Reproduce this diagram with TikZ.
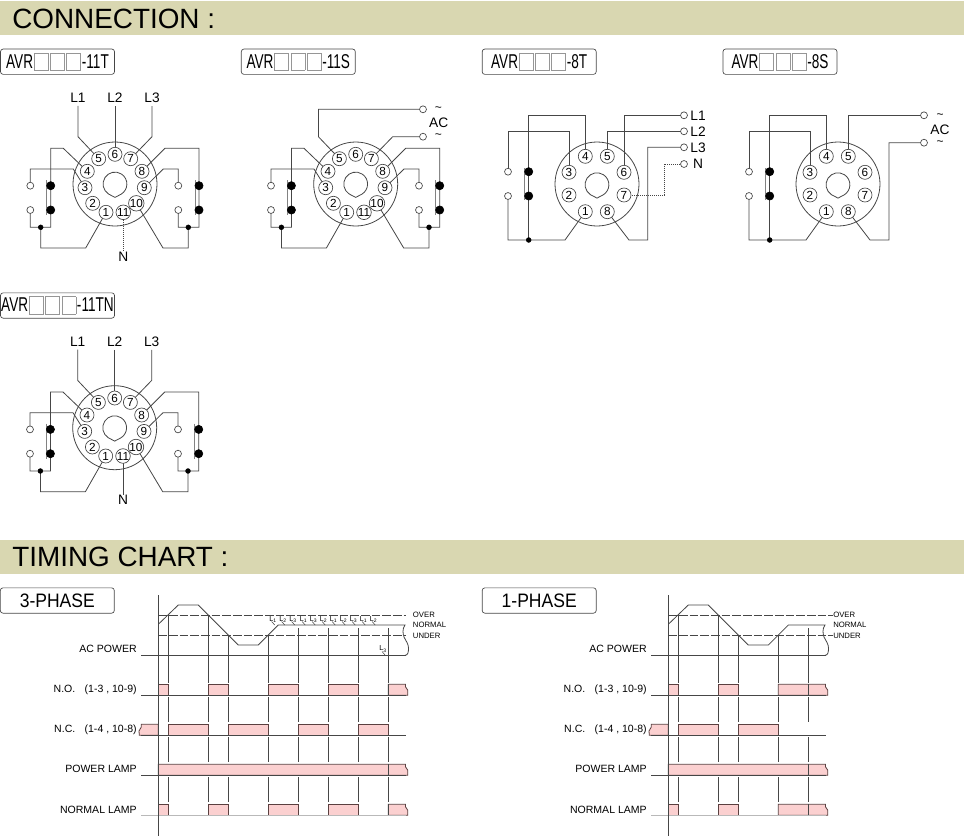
\documentclass[tikz,border=0pt]{standalone}
\usepackage{fontspec}
\usepackage{xcolor}
\usetikzlibrary{backgrounds}
\setmainfont{Liberation Sans}
\newfontfamily\boxfont[FakeStretch=0.68]{Liberation Sans}
\newfontfamily\phasefont[FakeStretch=0.9]{Liberation Sans}
\definecolor{bandcol}{RGB}{217,215,177}
\definecolor{wirecol}{RGB}{70,70,70}
\definecolor{slotcol}{RGB}{150,150,150}
\definecolor{pulsecol}{RGB}{251,208,208}
\definecolor{edgecol}{RGB}{90,64,64}
\definecolor{basecol}{RGB}{185,185,185}
\definecolor{barcol}{RGB}{130,130,130}
\tikzset{
  wire/.style={draw=wirecol,line width=0.6pt},
  dotwire/.style={draw=wirecol,line width=0.6pt,dash pattern={on 0.75pt off 0.75pt}},
  contactbar/.style={draw=barcol,line width=0.7pt},
  pinnode/.style={circle,draw=wirecol,line width=0.5pt,fill=white,inner sep=0pt,minimum size=10.5pt,font=\fontsize{8.8}{9}\selectfont},
  opencontact/.style={circle,draw=wirecol,line width=0.5pt,fill=white,inner sep=0pt,minimum size=5.2pt},
  shutcontact/.style={circle,draw=black,fill=black,inner sep=0pt,minimum size=6.2pt},
  joint/.style={circle,draw=black,fill=black,inner sep=0pt,minimum size=3.6pt},
  typelabel/.style={draw=wirecol,rounded corners=2pt,line width=0.5pt,minimum width=85.5pt,minimum height=19pt,inner sep=0pt,font=\boxfont\fontsize{15}{15}\selectfont},
  phaselabel/.style={draw=wirecol,rounded corners=2pt,line width=0.5pt,minimum width=85.5pt,minimum height=19pt,inner sep=0pt,font=\phasefont\fontsize{14.6}{15}\selectfont},
  bandtext/.style={anchor=west,inner sep=0pt,font=\fontsize{20.9}{21}\selectfont},
  termtext/.style={inner sep=0pt,font=\fontsize{10.3}{11}\selectfont},
  rowtext/.style={anchor=east,inner sep=0pt,font=\fontsize{7.9}{9}\selectfont},
  leveltext/.style={anchor=west,inner sep=0pt,font=\fontsize{5.8}{6}\selectfont},
  phasetick/.style={inner sep=0pt,font=\fontsize{5.4}{6}\selectfont},
  signal/.style={draw=wirecol,line width=0.6pt},
  limit/.style={draw=wirecol,line width=0.5pt,dash pattern={on 6.4pt off 1.6pt}},
  pulse/.style={draw=edgecol,fill=pulsecol,line width=0.6pt},
}
\newcommand{\slotbox}{{\setlength{\fboxsep}{0pt}\setlength{\fboxrule}{0.5pt}\hspace{0.6pt}\fcolorbox{slotcol}{white}{\rule[-1.5pt]{0pt}{12.6pt}\rule{10pt}{0pt}}\hspace{0.6pt}}}
\newcommand{\acsign}{{\fontsize{9}{9}\selectfont\textasciitilde}}
% eleven pin socket
\newcommand{\elevensocket}[1]{
  \draw [wire] (0,0) circle (42);
  \draw [wire] (-6.5,10) arc (123:417:11.9) -- (0,13.4) -- cycle;
  \foreach \num/\px/\py in {5/-16.3/-25.3,6/0/-29.7,7/15.7/-25.3,4/-27.7/-12.7,8/27/-12.7,3/-30/3.7,9/29.3/3.7,2/-22.3/19.3,10/21.3/19.3,1/-9/28.3,11/8.3/28.3}
    \node [pinnode] (#1\num) at (\px,\py) {\num};
  %contacts left
  \node [opencontact] (#1oa) at (-84.7,1.7) {};
  \node [opencontact] (#1ob) at (-84.7,26) {};
  \node [shutcontact] (#1sa) at (-64.3,1.7) {};
  \node [shutcontact] (#1sb) at (-64.3,26) {};
  \node [joint] (#1ja) at (-74.3,43.3) {};
  %contacts right
  \node [opencontact] (#1oc) at (63.3,1.7) {};
  \node [opencontact] (#1od) at (63.3,26) {};
  \node [shutcontact] (#1sc) at (84,1.7) {};
  \node [shutcontact] (#1sd) at (84,26) {};
  \node [joint] (#1jb) at (73.3,43.3) {};
  \begin{scope}[on background layer]
    \draw [wire] (#14.center) -- (-51.7,-35.7) -- (-64.3,-35.7) -- (#1sa.center) -- (#1sb.center) -- (-64.3,43.3) -- (#1ja.center) -- (-84.7,43.3) -- (#1ob.center);
    \draw [wire] (#13.center) -- (-41.7,-15) -- (-84.7,-15) -- (#1oa.center);
    \draw [wire] (#1ja.center) -- (-74.3,64) -- (-29.3,64) -- (#11.center);
    \draw [wire] (#18.center) -- (50,-35.7) -- (84,-35.7) -- (#1sc.center) -- (#1sd.center) -- (84,43.3) -- (#1jb.center) -- (63.3,43.3) -- (#1od.center);
    \draw [wire] (#19.center) -- (48.3,-15) -- (63.3,-15) -- (#1oc.center);
    \draw [wire] (#1jb.center) -- (73.3,64) -- (48,64) -- (#110.center);
    \draw [contactbar] (-68.3,-4) -- (-68.3,31);
    \draw [contactbar] (80,-4) -- (80,31);
  \end{scope}
}
% eight pin socket
\newcommand{\eightsocket}[1]{
  \draw [wire] (0,0) circle (42);
  \draw [wire] (-6.5,10.7) arc (123:417:11.9) -- (0,14.1) -- cycle;
  \foreach \num/\px/\py in {4/-11.7/-27.7,5/10.3/-27.7,3/-28/-11.7,6/27/-11.7,2/-28/11,7/27/11,1/-11.7/27.7,8/10.3/27.7}
    \node [pinnode] (#1\num) at (\px,\py) {\num};
  \node [opencontact] (#1oa) at (-89,-12.3) {};
  \node [opencontact] (#1ob) at (-89,12) {};
  \node [shutcontact] (#1sa) at (-68.3,-12.3) {};
  \node [shutcontact] (#1sb) at (-68.3,12) {};
  \node [joint] (#1ja) at (-68.3,56) {};
  \begin{scope}[on background layer]
    \draw [wire] (#14.center) -- (-11.7,-68.7) -- (-68.3,-68.7) -- (#1sa.center) -- (#1sb.center) -- (#1ja.center);
    \draw [wire] (#13.center) -- (-28,-52.7) -- (-89,-52.7) -- (#1oa.center);
    \draw [wire] (#1ob.center) -- (-89,56) -- (-32,56) -- (#11.center);
    \draw [contactbar] (-72.6,-16) -- (-72.6,16);
  \end{scope}
}

\begin{document}
\begin{tikzpicture}[x=0.75pt,y=0.75pt,yscale=-1,xscale=1]
\useasboundingbox (0,0) rectangle (964,836);

%Header bands
\fill [bandcol] (0,1) rectangle (964,35);
\fill [bandcol] (0,540) rectangle (964,574);
\node [bandtext] (connhead) at (12,18.5) {CONNECTION :};
\node [bandtext] (timehead) at (12,557) {TIMING CHART :};

%Type labels
\node [typelabel] (lab11t) at (57.5,61.7) {AVR\slotbox\slotbox\slotbox-11T};
\node [typelabel] (lab11s) at (298.3,61.7) {AVR\slotbox\slotbox\slotbox-11S};
\node [typelabel] (lab8t) at (539.2,61.7) {AVR\slotbox\slotbox\slotbox-8T};
\node [typelabel] (lab8s) at (780,61.7) {AVR\slotbox\slotbox\slotbox-8S};
\node [typelabel] (lab11tn) at (57.5,305.5) {AVR\slotbox\slotbox\slotbox-11TN};

%Socket 11T
\begin{scope}[shift={(115,184)}]
\elevensocket{t}
\node [termtext] (tl1) at (-37,-86) {L1};
\node [termtext] (tl2) at (0,-86) {L2};
\node [termtext] (tl3) at (37,-86) {L3};
\node [termtext] (tn) at (8.3,72.5) {N};
\begin{scope}[on background layer]
\draw [wire] (tl1.south) ++(0,3) -- (-37,-47.3) -- (t5.center);
\draw [wire] (tl2.south) ++(0,3) -- (t6.center);
\draw [wire] (tl3.south) ++(0,3) -- (37,-47.3) -- (t7.center);
\draw [dotwire] (t11.center) -- (tn.north);
\end{scope}
\end{scope}

%Socket 11S
\begin{scope}[shift={(355.7,184)}]
\elevensocket{s}
\node [opencontact] (sac1) at (67.3,-74.7) {};
\node [opencontact] (sac2) at (67.3,-47.3) {};
\node [termtext] (ssa) at (82.7,-75) {\acsign};
\node [termtext] (ssac) at (83,-61) {AC};
\node [termtext] (ssb) at (82.7,-48) {\acsign};
\begin{scope}[on background layer]
\draw [wire] (s5.center) -- (-37.3,-47.3) -- (-37.3,-74.7) -- (sac1.center);
\draw [wire] (s7.center) -- (37,-47.3) -- (sac2.center);
\end{scope}
\end{scope}

%Socket 8T
\begin{scope}[shift={(597,184)}]
\eightsocket{u}
\node [opencontact] (ul1) at (87,-68.7) {};
\node [opencontact] (ul2) at (87,-52.7) {};
\node [opencontact] (ul3) at (87,-36.7) {};
\node [opencontact] (un) at (87,-20) {};
\node [termtext] (ult1) at (101,-68.7) {L1};
\node [termtext] (ult2) at (101,-52.7) {L2};
\node [termtext] (ult3) at (101,-36.7) {L3};
\node [termtext] (unt) at (101,-20) {N};
\begin{scope}[on background layer]
\draw [wire] (u6.center) -- (27,-68.7) -- (ul1.center);
\draw [wire] (u5.center) -- (10.3,-52.7) -- (ul2.center);
\draw [wire] (u8.center) -- (32,56) -- (50.7,56) -- (50.7,-36.7) -- (ul3.center);
\draw [dotwire] (u7.center) -- (67.3,11) -- (67.3,-20) -- (un.center);
\end{scope}
\end{scope}

%Socket 8S
\begin{scope}[shift={(838,184)}]
\eightsocket{v}
\node [opencontact] (vac1) at (86,-68.7) {};
\node [opencontact] (vac2) at (86,-41.3) {};
\node [termtext] (vta) at (102,-68) {\acsign};
\node [termtext] (vtac) at (102,-54.5) {AC};
\node [termtext] (vtb) at (102,-41) {\acsign};
\begin{scope}[on background layer]
\draw [wire] (v5.center) -- (10.3,-68.7) -- (vac1.center);
\draw [wire] (v8.center) -- (32,56) -- (51,56) -- (51,-41.3) -- (vac2.center);
\end{scope}
\end{scope}

%Socket 11TN
\begin{scope}[shift={(114.7,427.7)}]
\elevensocket{n}
\node [termtext] (nl1) at (-37,-86) {L1};
\node [termtext] (nl2) at (0,-86) {L2};
\node [termtext] (nl3) at (37,-86) {L3};
\node [termtext] (nn) at (8.3,72.5) {N};
\begin{scope}[on background layer]
\draw [wire] (nl1.south) ++(0,3) -- (-37,-47.3) -- (n5.center);
\draw [wire] (nl2.south) ++(0,3) -- (n6.center);
\draw [wire] (nl3.south) ++(0,3) -- (37,-47.3) -- (n7.center);
\draw [wire] (n11.center) -- (nn.north);
\end{scope}
\end{scope}

%Phase labels
\node [phaselabel] (lab3p) at (57.3,600.5) {3-PHASE};
\node [phaselabel] (lab1p) at (539.2,600.5) {1-PHASE};

%Row texts
\foreach \nm/\tx/\ty in {acp/AC POWER/649,nop/{N.O.\hspace{7pt}(1-3 , 10-9)}/690,ncp/{N.C.\hspace{7pt}(1-4 , 10-8)}/730,pwp/POWER LAMP/769,nmp/NORMAL LAMP/809.7}{
  \node [rowtext] (\nm a) at (137,\ty) {\tx};
  \node [rowtext] (\nm b) at (647,\ty) {\tx};
}

%Chart 3-PHASE pulses
\foreach \ya/\xa/\xb in {695.3/158.3/168.3,695.3/208.3/228.3,695.3/268.3/298.3,695.3/328.3/358.3,
  735.3/168.3/208.3,735.3/228.3/268.3,735.3/298.3/328.3,735.3/358.3/388.3,
  815.3/158.3/168.3,815.3/208.3/228.3,815.3/268.3/298.3,815.3/328.3/358.3}
  \draw [pulse] (\xa,\ya) rectangle (\xb,\ya-11);
%Chart 1-PHASE pulses
\foreach \ya/\xa/\xb in {695.3/668.3/678.3,695.3/718.3/738.3,
  735.3/678.3/718.3,735.3/738.3/778.3,
  815.3/668.3/678.3,815.3/718.3/738.3}
  \draw [pulse] (\xa,\ya) rectangle (\xb,\ya-11);
%Pulses with a broken end
\foreach \xa/\xb/\ya in {388.3/405.5/695.3,158.3/405.5/775.3,388.3/405.5/815.3,778.3/825.5/695.3,668.3/825.5/775.3,778.3/825.5/815.3}
  \draw [pulse] (\xa,\ya) -- (\xa,\ya-11) -- (\xb,\ya-11) -- (\xb,\ya-8.5) -- (\xb+2.3,\ya-5) -- (\xb+2.3,\ya) -- cycle;
\foreach \xa/\xb in {158.3/141.3,668.3/651.3}
  \draw [pulse] (\xa,735.3) -- (\xa,724.3) -- (\xb,724.3) -- (\xb,727) -- (\xb-2.3,731) -- (\xb-2,735.3) -- cycle;

%Chart 3-PHASE lines
\foreach \ya in {655.3,695.3,735.3,775.3}
  \draw [signal] (141.3,\ya) -- (406,\ya);
\draw [basecol,line width=1pt] (141.3,815.3) -- (406,815.3);
\draw [signal] (158.3,595) -- (158.3,836);
\draw [limit] (158.3,615) -- (406,615);
\draw [limit] (158.3,635.7) -- (406,635.7);
\draw [signal] (158.3,624.3) -- (178.3,605) -- (198.3,605) -- (238.3,645) -- (258.3,645) -- (278.3,625) -- (405,625) .. controls (402,629) and (403,634) .. (404,637) .. controls (406,641) and (408.5,644) .. (408.5,648) .. controls (408.5,652) and (408,655.3) .. (405,655.3);
\foreach \xa/\ya in {168.3/614,208.3/615,228.3/635,268.3/635,298.3/628,328.3/628,358.3/628,388.3/628}
  \foreach \yb/\yc in {\ya/683,697/722,737/762,777/802}
    \draw [signal] (\xa,\yb) -- (\xa,\yc);
\foreach \ya in {695.3,775.3,815.3}
  \draw [signal] (388.3,\ya) -- (388.3,\ya-11);
\node [leveltext] (tover) at (412.7,615) {OVER};
\node [leveltext] (tnorm) at (412.7,625.2) {NORMAL};
\node [leveltext] (tunder) at (412.7,635.7) {UNDER};

%Phase marks
\foreach \xa/\num in {273/1,283/2,293/3,303.5/1,313.5/3,323.5/2,333.5/1,343.5/2,353.5/3,363.5/1,373.5/2}{
  \node [phasetick] (mk\xa) at (\xa,619.6) {L\textsubscript{\num}};
  \draw [wire,line width=0.4pt] (\xa-1.5,621.5) -- (\xa+1.8,625);
}
\node [phasetick] (mkz) at (383,649) {L\textsubscript{3}};
\draw [wire,line width=0.4pt] (382,651.5) -- (385,655);

%Chart 1-PHASE lines
\foreach \ya in {655.3,695.3,735.3,775.3}
  \draw [signal] (651.3,\ya) -- (826,\ya);
\draw [basecol,line width=1pt] (651.3,815.3) -- (826,815.3);
\draw [signal] (668.3,595) -- (668.3,836);
\draw [limit] (668.3,615) -- (832.7,615);
\draw [limit] (668.3,635.7) -- (832.7,635.7);
\draw [signal] (668.3,624.3) -- (688.3,605) -- (708.3,605) -- (748.3,645) -- (768.3,645) -- (788.3,625) -- (825,625) .. controls (822,629) and (823,634) .. (824,637) .. controls (826,641) and (828.5,644) .. (828.5,648) .. controls (828.5,652) and (828,655.3) .. (825,655.3);
\foreach \xa/\ya in {678.3/614,718.3/615,738.3/635,778.3/635,808.3/628}
  \foreach \yb/\yc in {\ya/683,697/722,737/762,777/802}
    \draw [signal] (\xa,\yb) -- (\xa,\yc);
\foreach \ya in {695.3,775.3,815.3}
  \draw [signal] (808.3,\ya) -- (808.3,\ya-11);
\node [leveltext] (oover) at (833,615) {OVER};
\node [leveltext] (onorm) at (833,625.2) {NORMAL};
\node [leveltext] (ounder) at (833,635.7) {UNDER};

\end{tikzpicture}
\end{document}
